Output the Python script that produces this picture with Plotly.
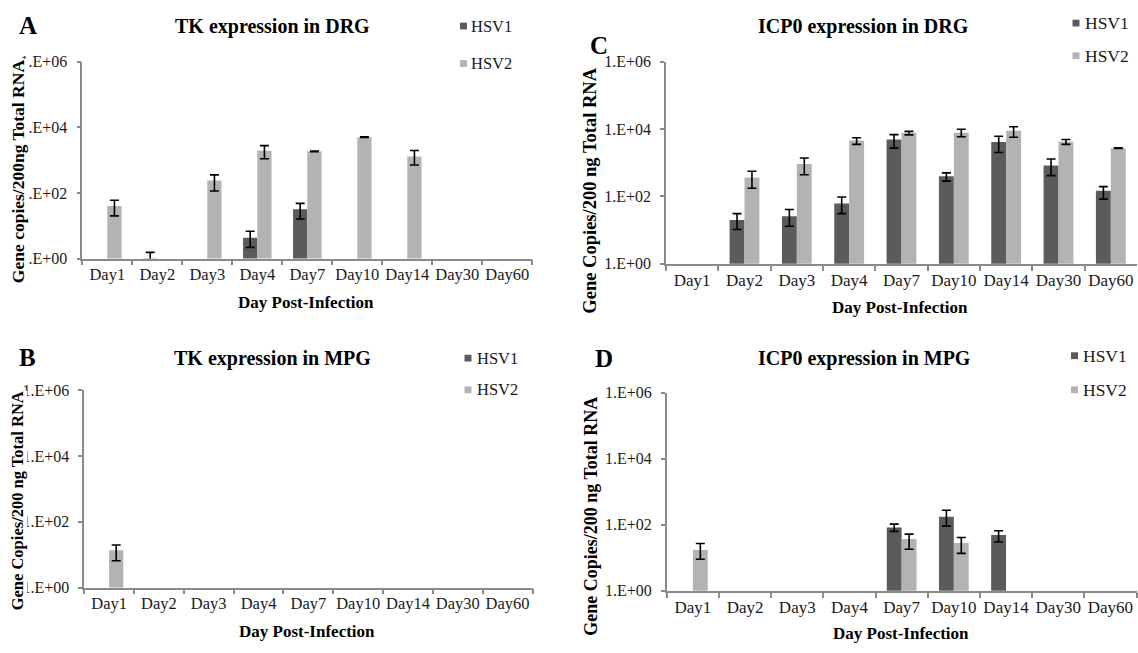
import plotly.graph_objects as go

# ---------------- data ----------------
days = ["Day1", "Day2", "Day3", "Day4", "Day7", "Day10", "Day14", "Day30", "Day60"]
series_names = ["HSV1", "HSV2"]
y_tick_vals = [1, 1e2, 1e4, 1e6]
y_tick_text = ["1.E+00", "1.E+02", "1.E+04", "1.E+06"]

# A: TK expression in DRG (mean, upper bound, lower bound)
tk_drg_hsv1 = [None, 1, None, 4.3, 32, None, None, None, None]
tk_drg_hsv1_hi = [None, 1.55, None, 6.8, 48, None, None, None, None]
tk_drg_hsv1_lo = [None, 0.6, None, 2.2, 16, None, None, None, None]
tk_drg_hsv2 = [40, None, 240, 1940, 1850, 5000, 1290, None, None]
tk_drg_hsv2_hi = [60, None, 355, 2750, 1900, 5100, 1950, None, None]
tk_drg_hsv2_lo = [20, None, 115, 1100, 1800, 4900, 710, None, None]

# B: TK expression in MPG
tk_mpg_hsv1 = [None, None, None, None, None, None, None, None, None]
tk_mpg_hsv1_hi = [None, None, None, None, None, None, None, None, None]
tk_mpg_hsv1_lo = [None, None, None, None, None, None, None, None, None]
tk_mpg_hsv2 = [13.5, None, None, None, None, None, None, None, None]
tk_mpg_hsv2_hi = [19.6, None, None, None, None, None, None, None, None]
tk_mpg_hsv2_lo = [6.5, None, None, None, None, None, None, None, None]

# C: ICP0 expression in DRG
icp0_drg_hsv1 = [None, 20, 26, 62, 4900, 400, 4100, 830, 147]
icp0_drg_hsv1_hi = [None, 31, 41, 96, 6800, 500, 6100, 1290, 195]
icp0_drg_hsv1_lo = [None, 10.5, 13, 31, 2700, 285, 2000, 415, 83]
icp0_drg_hsv2 = [None, 365, 910, 4570, 7800, 7800, 8900, 4200, 2700]
icp0_drg_hsv2_hi = [None, 560, 1380, 5500, 8500, 9800, 11700, 4900, 2750]
icp0_drg_hsv2_lo = [None, 175, 440, 3500, 6700, 5900, 5700, 3500, 2650]

# D: ICP0 expression in MPG
icp0_mpg_hsv1 = [None, None, None, None, 83, 175, 49, None, None]
icp0_mpg_hsv1_hi = [None, None, None, None, 104, 275, 66, None, None]
icp0_mpg_hsv1_lo = [None, None, None, None, 63, 91, 30, None, None]
icp0_mpg_hsv2 = [17, None, None, None, 37, 28, None, None, None]
icp0_mpg_hsv2_hi = [27, None, None, None, 52, 41, None, None, None]
icp0_mpg_hsv2_lo = [9, None, None, None, 18, 13.5, None, None, None]

# ---------------- styling ----------------
W, H = 1138, 653
SERIF = "Liberation Serif, Times New Roman, serif"
COL_HSV1 = "#5b5b5b"
COL_HSV2 = "#b3b3b3"
AXIS_COL = "#8a8a8a"
TEXT_COL = "#1a1a1a"


def px_x(x):
    return x / W


def px_y(y):
    return 1 - y / H


panels = [
    dict(
        key="1", letter="A", title="TK expression in DRG",
        ytitle="Gene copies/200ng Total RNA",
        data=[(tk_drg_hsv1, tk_drg_hsv1_hi, tk_drg_hsv1_lo),
              (tk_drg_hsv2, tk_drg_hsv2_hi, tk_drg_hsv2_lo)],
        box=(82.3, 532.3, 55, 257.3),
        letter_pos=(27.8, 17.5), title_pos=(272, 18.5), xt_pos=(306.4, 302),
        yt_pos=(17.5, 168), yt_size=17.5, yt_bg=True,
        leg_sq=463.5, leg_tx=469, leg_y=(18.5, 57), leg_size=16.5,
        tick_size=16.5,
    ),
    dict(
        key="2", letter="C", title="ICP0 expression in DRG",
        ytitle="Gene Copies/200 ng Total RNA",
        data=[(icp0_drg_hsv1, icp0_drg_hsv1_hi, icp0_drg_hsv1_lo),
              (icp0_drg_hsv2, icp0_drg_hsv2_hi, icp0_drg_hsv2_lo)],
        box=(666, 1137, 55, 262.7),
        letter_pos=(598.6, 38.5), title_pos=(863, 18.5), xt_pos=(900, 307),
        yt_pos=(590.5, 187), yt_size=18.5, yt_bg=False,
        leg_sq=1076, leg_tx=1083, leg_y=(15.5, 49), leg_size=17.5,
        tick_size=17,
    ),
    dict(
        key="3", letter="B", title="TK expression in MPG",
        ytitle="Gene Copies/200 ng Total RNA",
        data=[(tk_mpg_hsv1, tk_mpg_hsv1_hi, tk_mpg_hsv1_lo),
              (tk_mpg_hsv2, tk_mpg_hsv2_hi, tk_mpg_hsv2_lo)],
        box=(84.2, 532.5, 392.3, 595),
        letter_pos=(27.2, 358.5), title_pos=(272, 360), xt_pos=(307, 640),
        yt_pos=(17.5, 506), yt_size=16.5, yt_bg=True,
        leg_sq=468, leg_tx=475, leg_y=(359.5, 392), leg_size=16.5,
        tick_size=16.5,
    ),
    dict(
        key="4", letter="D", title="ICP0 expression in MPG",
        ytitle="Gene Copies/200 ng Total RNA",
        data=[(icp0_mpg_hsv1, icp0_mpg_hsv1_hi, icp0_mpg_hsv1_lo),
              (icp0_mpg_hsv2, icp0_mpg_hsv2_hi, icp0_mpg_hsv2_lo)],
        box=(666.8, 1136.5, 395, 598.3),
        letter_pos=(604, 359.5), title_pos=(864, 360), xt_pos=(900.6, 642),
        yt_pos=(591.3, 522), yt_size=18, yt_bg=False,
        leg_sq=1074.5, leg_tx=1081, leg_y=(357, 392), leg_size=17.5,
        tick_size=17,
    ),
]

fig = go.Figure()
annotations = []
shapes = []
layout_axes = {}

for p in panels:
    k = p["key"]
    xref = "x" if k == "1" else "x" + k
    yref = "y" if k == "1" else "y" + k
    for (vals, hi, lo), name, col in zip(p["data"], series_names, [COL_HSV1, COL_HSV2]):
        plus = [None if v is None else h - v for v, h in zip(vals, hi)]
        minus = [None if v is None else v - l for v, l in zip(vals, lo)]
        fig.add_trace(go.Bar(
            x=days, y=vals, name=name, marker_color=col, marker_line_width=0,
            xaxis=xref, yaxis=yref, showlegend=False,
            error_y=dict(type="data", symmetric=False, array=plus, arrayminus=minus,
                         color="black", thickness=1.6, width=4.5),
        ))

    x0, x1, y0, y1 = p["box"]
    xa_name = "xaxis" if k == "1" else "xaxis" + k
    ya_name = "yaxis" if k == "1" else "yaxis" + k
    layout_axes[xa_name] = dict(
        domain=[px_x(x0), px_x(x1)], anchor=yref, type="category",
        categoryorder="array", categoryarray=days, range=[-0.5, len(days) - 0.5],
        showline=True, linecolor=AXIS_COL, linewidth=1.6,
        ticks="outside", tickson="boundaries", ticklen=5, tickcolor=AXIS_COL, tickwidth=1.6,
        tickangle=0,
        tickfont=dict(family=SERIF, size=p["tick_size"], color=TEXT_COL),
        showgrid=False, zeroline=False, fixedrange=True,
    )
    layout_axes[ya_name] = dict(
        domain=[px_y(y1), px_y(y0)], anchor=xref, type="log", range=[0, 6],
        tickvals=y_tick_vals, ticktext=y_tick_text,
        showline=True, linecolor=AXIS_COL, linewidth=1.6,
        ticks="outside", ticklen=4, tickcolor=AXIS_COL, tickwidth=1.6,
        ticklabelstandoff=6,
        tickfont=dict(family=SERIF, size=16, color=TEXT_COL),
        showgrid=False, zeroline=False, fixedrange=True,
    )

    # panel letter
    annotations.append(dict(
        text="<b>%s</b>" % p["letter"], x=px_x(p["letter_pos"][0]), y=px_y(p["letter_pos"][1]),
        xref="paper", yref="paper", showarrow=False, xanchor="center", yanchor="middle",
        font=dict(family=SERIF, size=25, color="black"),
    ))
    # panel title
    annotations.append(dict(
        text="<b>%s</b>" % p["title"], x=px_x(p["title_pos"][0]), y=px_y(p["title_pos"][1]),
        xref="paper", yref="paper", showarrow=False, xanchor="center", yanchor="middle",
        font=dict(family=SERIF, size=20, color="black"),
    ))
    # x-axis title
    annotations.append(dict(
        text="<b>Day Post-Infection</b>", x=px_x(p["xt_pos"][0]), y=px_y(p["xt_pos"][1]),
        xref="paper", yref="paper", showarrow=False, xanchor="center", yanchor="middle",
        font=dict(family=SERIF, size=17, color="black"),
    ))
    # y-axis title
    yt = dict(
        text="<b>%s</b>" % p["ytitle"], x=px_x(p["yt_pos"][0]), y=px_y(p["yt_pos"][1]),
        xref="paper", yref="paper", showarrow=False, xanchor="center", yanchor="middle",
        textangle=-90, font=dict(family=SERIF, size=p["yt_size"], color="black"),
    )
    if p["yt_bg"]:
        yt["bgcolor"] = "white"
        yt["borderpad"] = 0
    annotations.append(yt)

    # legend swatches and labels
    for name, col, ly in zip(series_names, [COL_HSV1, COL_HSV2], p["leg_y"]):
        sx = p["leg_sq"]
        shapes.append(dict(
            type="rect", xref="paper", yref="paper",
            x0=px_x(sx - 3.5), x1=px_x(sx + 3.5), y0=px_y(ly + 3.5), y1=px_y(ly - 3.5),
            fillcolor=col, line_width=0,
        ))
        annotations.append(dict(
            text=name, x=px_x(p["leg_tx"]), y=px_y(ly), xref="paper", yref="paper",
            showarrow=False, xanchor="left", yanchor="middle",
            font=dict(family=SERIF, size=p["leg_size"], color=TEXT_COL),
        ))

fig.update_layout(
    width=W, height=H,
    margin=dict(l=0, r=0, t=0, b=0),
    paper_bgcolor="white", plot_bgcolor="white",
    barmode="group", bargap=0.43, bargroupgap=0,
    showlegend=False,
    annotations=annotations, shapes=shapes,
    **layout_axes,
)

fig.write_html("out.html", config={"displayModeBar": False})
